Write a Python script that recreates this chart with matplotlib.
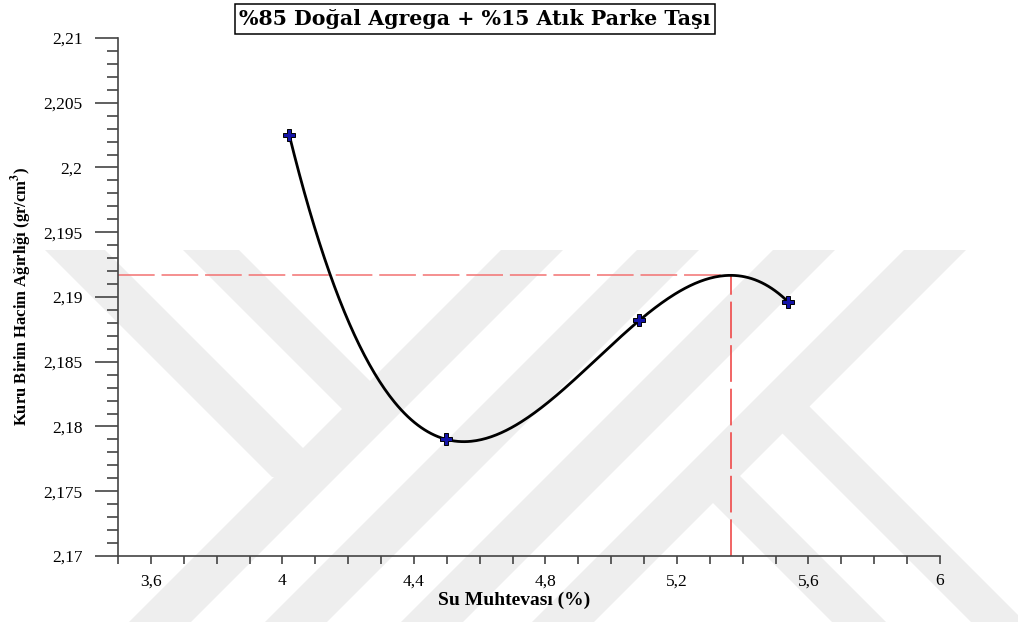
import matplotlib
matplotlib.use("Agg")
import matplotlib.pyplot as plt
from matplotlib.patches import Polygon
from matplotlib.ticker import MultipleLocator, FuncFormatter
import numpy as np

# okunan deney noktalari
su_muhtevasi = [4.021, 4.499, 5.086, 5.539]
birim_agirlik = [2.2025, 2.1790, 2.1882, 2.1896]

baslik = "%85 Doğal Agrega + %15 Atık Parke Taşı"
x_etiket = "Su Muhtevası (%)"
y_etiket = "Kuru Birim Hacim Ağırlığı (gr/cm$^{\\mathbf{3}}$)"

plt.rcParams['font.family'] = ['Liberation Serif', 'DejaVu Serif']
plt.rcParams['mathtext.fontset'] = 'stix'

W, H = 1018, 622
fig = plt.figure(figsize=(W / 100, H / 100), dpi=100)

# arka plandaki filigran (yaklasik, piksel koordinatlari)
gri = '#eeeeee'


def bant(x0, y0, x1, y1, bw=62):
    pts = [(x0 - bw / 2, y0), (x0 + bw / 2, y0), (x1 + bw / 2, y1), (x1 - bw / 2, y1)]
    pts = [(px / W, 1 - py / H) for px, py in pts]
    fig.patches.append(Polygon(pts, closed=True, transform=fig.transFigure,
                               facecolor=gri, edgecolor='none', zorder=-5))


for c in (532, 668, 804, 935):
    bant(c, 250, c - 372, 622)
bant(75, 250, 302, 477, 60)
bant(211, 250, 370, 409, 56)
bant(780, 404, 998, 622, 54)
bant(710, 473, 859, 622, 54)

ax = fig.add_axes([118 / W, 1 - 556 / H, 822 / W, 518 / H])
ax.patch.set_alpha(0)

katsayi = np.polyfit(su_muhtevasi, birim_agirlik, 3)
xs = np.linspace(su_muhtevasi[0], su_muhtevasi[-1], 300)
ax.plot(xs, np.polyval(katsayi, xs), color='black', lw=2.0, zorder=3)

kokler = np.roots(np.polyder(katsayi))
kokler = [r.real for r in kokler if abs(r.imag) < 1e-9 and su_muhtevasi[0] < r.real < su_muhtevasi[-1]]
x_opt = max(kokler, key=lambda r: np.polyval(katsayi, r))
y_opt = np.polyval(katsayi, x_opt)

ax.plot([3.5, x_opt], [y_opt, y_opt], color='#f27272', lw=1.1, ls=(0, (24, 4.5)), zorder=2)
ax.plot([x_opt, x_opt], [2.17, y_opt], color='#ee3a3a', lw=1.1, ls=(0, (24, 4.5)), zorder=2)

ax.plot(su_muhtevasi, birim_agirlik, ls='none', marker='P', markersize=8.5,
        markerfacecolor='#1414a8', markeredgecolor='black', markeredgewidth=0.7, zorder=4)

ax.set_xlim(3.5, 6)
ax.set_ylim(2.17, 2.21)
ax.spines['top'].set_visible(False)
ax.spines['right'].set_visible(False)
for s in ('left', 'bottom'):
    ax.spines[s].set_color('#444444')
    ax.spines[s].set_linewidth(1.2)

ax.xaxis.set_major_locator(MultipleLocator(0.4))
ax.xaxis.set_minor_locator(MultipleLocator(0.1))
ax.yaxis.set_major_locator(MultipleLocator(0.005))
ax.yaxis.set_minor_locator(MultipleLocator(0.001))

virgul = FuncFormatter(lambda v, p: ('%g' % round(v, 4)).replace('.', ','))
ax.xaxis.set_major_formatter(virgul)
ax.yaxis.set_major_formatter(virgul)

ax.tick_params(axis='y', which='major', length=16.5, width=1.2, color='#444444', pad=9, labelsize=12.5)
ax.tick_params(axis='y', which='minor', length=8, width=1.2, color='#444444')
ax.tick_params(axis='x', which='both', length=5.5, width=1.2, color='#444444', pad=7, labelsize=12.5)

fig.text(475 / W, 1 - 19 / H, baslik, ha='center', va='center', fontsize=14.8, fontweight='bold',
         family=['DejaVu Serif'],
         bbox=dict(boxstyle='square,pad=0.22', facecolor='white', edgecolor='black', lw=1.1))
fig.text(514 / W, 1 - 600 / H, x_etiket, ha='center', va='center', fontsize=14, fontweight='bold')
fig.text(22 / W, 1 - 296 / H, y_etiket, ha='center', va='center', rotation=90,
         fontsize=12, fontweight='bold')

fig.savefig('out.png', dpi=100)
